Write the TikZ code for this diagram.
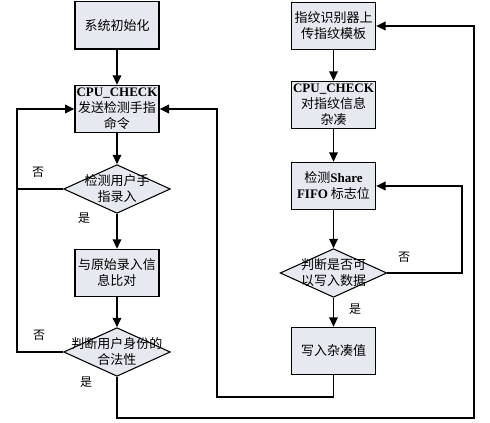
\documentclass[tikz,border=0pt]{standalone}
\usepackage{fontspec}
\setmainfont{Noto Sans CJK SC}
\newfontfamily\latfont{Liberation Serif}
\usetikzlibrary{shapes.geometric,arrows.meta}
\definecolor{boxfill}{RGB}{230,234,240}
\newcommand{\lat}[1]{{\latfont\bfseries #1}}

\begin{document}
\begin{tikzpicture}[x=0.75pt,y=-0.75pt,>={Triangle[length=7pt,width=6.5pt]},line/.style={draw=black,line width=1.1pt},box/.style={rectangle,draw=black,fill=boxfill,line width=1pt,minimum width=63pt,minimum height=35.5pt,inner sep=0pt,align=center,font=\fontsize{9.75}{12}\selectfont},dec/.style={diamond,draw=black,fill=boxfill,line width=0.8pt,minimum width=80pt,minimum height=36.5pt,inner sep=0pt},txt/.style={align=center,inner sep=0pt,font=\fontsize{9.75}{12}\selectfont},yn/.style={inner sep=0pt,font=\fontsize{9}{11}\selectfont},]
        \useasboundingbox (0,0) rectangle (490,423);
        % left column
        \node[box] (init) at (117,25.5) {系统初始化};
        \node[box] (check1) at (117,109) {\lat{CPU\_CHECK}\\发送检测手指\\命令};
        \node[dec] (d1) at (117,189) {};
        \node[txt] (d1t) at (d1) {检测用户手\\指录入};
        \node[box] (comp) at (117,273) {与原始录入信\\息比对};
        \node[dec] (d2) at (117,352) {};
        \node[txt] (d2t) at (d2) {判断用户身份的\\合法性};
        % right column
        \node[box] (upload) at (333.5,26) {指纹识别器上\\传指纹模板};
        \node[box] (check2) at (333.5,105) {\lat{CPU\_CHECK}\\对指纹信息\\杂凑};
        \node[box] (fifo) at (333.5,186) {检测\lat{Share}\\\lat{FIFO} 标志位};
        \node[dec] (d3) at (333.5,273) {};
        \node[txt] (d3t) at (d3) {判断是否可\\以写入数据};
        \node[box] (write) at (333.5,351) {写入杂凑值};

        % yes / no
        \node[yn] (no1) at (38,172) {否};
        \node[yn] (yes1) at (84,218) {是};
        \node[yn] (no2) at (39,335) {否};
        \node[yn] (yes2) at (86,382) {是};
        \node[yn] (no3) at (404,257) {否};
        \node[yn] (yes3) at (355,309) {是};

        \coordinate (lx) at (17,0);
        \coordinate (mx) at (217,397);
        \coordinate (rx) at (474,418);
        \coordinate (fx) at (462,273);

        \draw[line,->] (init) -- (check1);
        \draw[line,->] (check1) -- (d1);
        \draw[line,->] (d1) -- (comp);
        \draw[line,->] (comp) -- (d2);
        \draw[line] (d1.west) -- (d1.west -| lx);
        \draw[line,->] (d2.west) -- (d2.west -| lx) |- (check1.west);
        \draw[line,->] (d2.south) |- (rx) |- (upload.east);

        \draw[line,->] (upload) -- (check2);
        \draw[line,->] (check2) -- (fifo);
        \draw[line,->] (fifo) -- (d3);
        \draw[line,->] (d3) -- (write);
        \draw[line,->] (d3.east) -- (fx) |- (fifo.east);
        \draw[line,->] (write.south) |- (mx) |- (check1.east);
    \end{tikzpicture}
\end{document}
